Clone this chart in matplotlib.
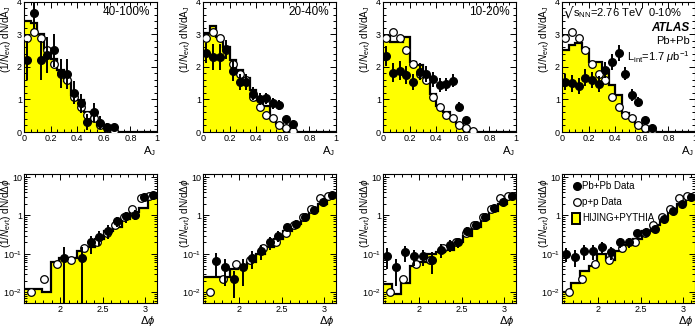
import numpy as np
import matplotlib
matplotlib.use('Agg')
import matplotlib.pyplot as plt
from matplotlib.ticker import MultipleLocator, FixedLocator, FixedFormatter, NullFormatter

plt.rcParams['font.family'] = ['Liberation Sans', 'DejaVu Sans']
plt.rcParams['mathtext.fontset'] = 'custom'
plt.rcParams['mathtext.rm'] = 'Liberation Sans'
plt.rcParams['mathtext.it'] = 'Liberation Sans:italic'

nan = np.nan
centralities = ['40-100%', '20-40%', '10-20%', '0-10%']

# ---- A_J distributions (bins of 0.05) ----
aj_edges = np.arange(0, 1.0001, 0.05)
aj_centres = aj_edges[:14] + 0.025

aj_pbpb = [
    [2.2, 3.65, 2.2, 2.35, 2.5, 1.8, 1.78, 1.2, 0.88, 0.3, 0.6, 0.28, 0.15, 0.15],
    [2.43, 2.31, 2.31, 2.53, 1.87, 1.54, 1.54, 1.18, 1.01, 1.03, 0.88, 0.83, 0.39, 0.24],
    [2.33, 1.82, 1.88, 1.74, 1.54, 1.85, 1.78, 1.61, 1.44, 1.47, 1.57, 0.78, 0.37, nan],
    [1.54, 1.49, 1.41, 1.67, 1.59, 1.47, 1.9, 2.15, 2.43, 1.78, 1.13, 0.93, 0.37, 0.13],
]
aj_pbpb_err = [
    [0.6, 0.5, 0.6, 0.55, 0.5, 0.45, 0.45, 0.35, 0.3, 0.25, 0.3, 0.2, 0.12, 0.1],
    [0.3, 0.4, 0.4, 0.3, 0.3, 0.25, 0.25, 0.2, 0.18, 0.18, 0.17, 0.15, 0.1, 0.08],
    [0.3, 0.3, 0.3, 0.28, 0.25, 0.25, 0.25, 0.22, 0.2, 0.2, 0.2, 0.15, 0.1, nan],
    [0.25, 0.25, 0.25, 0.25, 0.25, 0.25, 0.25, 0.25, 0.25, 0.2, 0.18, 0.15, 0.1, 0.06],
]
aj_pp = [2.87, 3.05, 2.87, 2.5, 2.08, 1.78, 1.6, 1.08, 0.78, 0.52, 0.42, 0.21, 0.11, 0.03]
aj_hijing = [
    [3.4, 3.33, 3.0, 2.53, 2.25, 1.9, 1.56, 1.13, 0.98, 0.62, 0.57, 0.21, 0.11, 0.04, 0, 0, 0, 0, 0, 0],
    [3.02, 3.24, 2.9, 2.6, 2.2, 1.9, 1.67, 1.29, 0.98, 0.8, 0.42, 0.24, 0.11, 0.04, 0, 0, 0, 0, 0, 0],
    [2.94, 2.77, 2.77, 2.9, 2.15, 2.05, 1.75, 1.18, 0.8, 0.62, 0.42, 0.24, 0.08, 0.02, 0, 0, 0, 0, 0, 0],
    [2.5, 2.68, 2.73, 2.53, 2.15, 2.15, 1.9, 1.45, 1.13, 0.57, 0.47, 0.24, 0.11, 0.04, 0, 0, 0, 0, 0, 0],
]

# ---- delta phi distributions (bins of pi/30) ----
dphi_edges = np.pi / 2 + np.arange(16) * np.pi / 30
dphi_centres = 0.5 * (dphi_edges[1:] + dphi_edges[:-1])

dphi_pbpb = [
    [nan, nan, nan, nan, 0.08, nan, 0.08, 0.2, 0.28, 0.4, 0.7, 0.95, 1.05, 3.0, 3.5],
    [nan, 0.065, 0.045, 0.022, 0.045, 0.08, 0.12, 0.2, 0.3, 0.5, 0.6, 0.9, 1.4, 2.2, 3.5],
    [0.09, 0.045, 0.11, 0.09, 0.09, 0.07, 0.13, 0.17, 0.2, 0.4, 0.55, 0.9, 1.6, 2.3, 3.3],
    [0.1, 0.085, 0.12, 0.12, 0.15, 0.11, 0.2, 0.2, 0.35, 0.38, 0.45, 0.8, 1.3, 2.0, 3.0],
]
dphi_pbpb_lo = [
    [nan, nan, nan, nan, 0.076, nan, 0.076, 0.1, 0.12, 0.15, 0.2, 0.3, 0.3, 0.6, 0.6],
    [nan, 0.04, 0.03, 0.015, 0.03, 0.04, 0.05, 0.07, 0.1, 0.1, 0.15, 0.15, 0.2, 0.3, 0.4],
    [0.05, 0.03, 0.05, 0.04, 0.04, 0.04, 0.05, 0.06, 0.06, 0.1, 0.1, 0.15, 0.2, 0.3, 0.3],
    [0.04, 0.04, 0.05, 0.05, 0.05, 0.04, 0.06, 0.06, 0.08, 0.08, 0.08, 0.12, 0.15, 0.2, 0.3],
]
dphi_pp = [0.01, 0.022, 0.055, 0.07, 0.14, 0.2, 0.35, 0.55, 0.9, 1.5, 2.8, 3.3]
dphi_pp_x = [1.649, 1.806, 1.963, 2.121, 2.278, 2.435, 2.55, 2.65, 2.75, 2.85, 2.95, 3.05]
dphi_hijing = [
    [0.012, 0.012, 0.01, 0.06, 0.08, 0.08, 0.12, 0.15, 0.25, 0.4, 0.5, 0.8, 1.2, 1.6, 2.8],
    [0.025, 0.025, 0.025, 0.04, 0.05, 0.06, 0.1, 0.15, 0.25, 0.4, 0.6, 0.9, 1.3, 2.0, 3.0],
    [0.017, 0.009, 0.018, 0.05, 0.06, 0.1, 0.11, 0.13, 0.2, 0.3, 0.5, 0.8, 1.3, 2.0, 3.0],
    [0.01, 0.018, 0.035, 0.05, 0.1, 0.07, 0.12, 0.17, 0.25, 0.4, 0.55, 0.8, 1.3, 2.0, 3.0],
]

W, H = 695, 327
fig = plt.figure(figsize=(W / 100, H / 100), dpi=100)
lefts = [24, 203, 383, 562]
aw = 133
fs_tick = 6.5


def style_axes(ax):
    ax.tick_params(which='both', direction='in', top=True, right=True, labelsize=fs_tick,
                   width=0.7, pad=1.5)
    ax.tick_params(which='major', length=4)
    ax.tick_params(which='minor', length=2)
    for s in ax.spines.values():
        s.set_linewidth(0.8)


def step_hist(ax, edges, vals, ybase):
    vals = np.asarray(vals, dtype=float)
    ax.stairs(vals, edges, baseline=ybase, fill=True, color='#ffff00', lw=0)
    ax.stairs(vals, edges, baseline=None, color='black', lw=1.6)


def axis_labels(ax, ytxt, xtxt, xlab_y):
    ax.set_ylabel(ytxt, fontsize=7.2)
    ax.yaxis.set_label_coords(-0.085, 0.97)
    ax.yaxis.label.set_horizontalalignment('right')
    ax.set_xlabel(xtxt, fontsize=8)
    ax.xaxis.set_label_coords(0.99, xlab_y)
    ax.xaxis.label.set_horizontalalignment('right')


for i in range(4):
    # top row: A_J
    ax = fig.add_axes([lefts[i] / W, (H - 132) / H, aw / W, 130.5 / H])
    step_hist(ax, aj_edges, aj_hijing[i], 0)
    ax.errorbar(aj_centres, aj_pbpb[i], yerr=aj_pbpb_err[i], fmt='o', color='black',
                ms=5.5, elinewidth=1.4, capsize=0, zorder=5)
    ax.plot(aj_centres, aj_pp, 'o', mfc='white', mec='black', mew=0.9, ms=5.5, zorder=4)
    ax.set_xlim(0, 1)
    ax.set_ylim(0, 4)
    ax.xaxis.set_major_locator(FixedLocator([0, 0.2, 0.4, 0.6, 0.8, 1]))
    ax.xaxis.set_major_formatter(FixedFormatter(['0', '0.2', '0.4', '0.6', '0.8', '1']))
    ax.xaxis.set_minor_locator(MultipleLocator(0.05))
    ax.yaxis.set_major_locator(MultipleLocator(1))
    ax.yaxis.set_minor_locator(MultipleLocator(0.2))
    style_axes(ax)
    axis_labels(ax, r'$(1/N_{\rm evt})$ dN/dA$_{\rm J}$', r'A$_{\rm J}$', -0.09)
    if i < 3:
        ax.text(0.95, 0.92, centralities[i], transform=ax.transAxes, ha='right', va='center',
                fontsize=8.5)
    else:
        ax.text(0.01, 0.915, '\u221a', transform=ax.transAxes, ha='left', va='center',
                fontsize=11, family='DejaVu Sans')
        ax.text(0.085, 0.91, r's$_{\rm NN}$=2.76 TeV  ' + centralities[i],
                transform=ax.transAxes, ha='left', va='center', fontsize=8)
        ax.text(0.96, 0.8, 'ATLAS', transform=ax.transAxes, ha='right', va='center',
                fontsize=8.5, fontweight='bold', fontstyle='italic')
        ax.text(0.96, 0.695, 'Pb+Pb', transform=ax.transAxes, ha='right', va='center',
                fontsize=8)
        ax.text(0.96, 0.575, r'L$_{\rm int}$=1.7 $\mu$b$^{-1}$', transform=ax.transAxes,
                ha='right', va='center', fontsize=8)

    # bottom row: delta phi
    ax = fig.add_axes([lefts[i] / W, (H - 303) / H, aw / W, 129 / H])
    ylo, yhi = 5.3e-3, 12
    step_hist(ax, dphi_edges, dphi_hijing[i], ylo)
    y = np.array(dphi_pbpb[i])
    lo = np.array(dphi_pbpb_lo[i])
    ax.errorbar(dphi_centres, y, yerr=[lo, lo], fmt='o', color='black', ms=5.5,
                elinewidth=1.4, capsize=0, zorder=5)
    ax.plot(dphi_pp_x, dphi_pp, 'o', mfc='white', mec='black', mew=0.9, ms=5.5, zorder=4)
    ax.set_yscale('log')
    ax.set_xlim(np.pi / 2, np.pi)
    ax.set_ylim(ylo, yhi)
    ax.xaxis.set_major_locator(FixedLocator([2, 2.5, 3]))
    ax.xaxis.set_major_formatter(FixedFormatter(['2', '2.5', '3']))
    ax.xaxis.set_minor_locator(MultipleLocator(0.1))
    ax.yaxis.set_major_locator(FixedLocator([1e-2, 1e-1, 1, 10]))
    ax.yaxis.set_major_formatter(FixedFormatter([r'$10^{-2}$', r'$10^{-1}$', '1', '10']))
    ax.yaxis.set_minor_locator(FixedLocator(
        [k * 10.0 ** e for e in range(-3, 2) for k in range(2, 10)]))
    ax.yaxis.set_minor_formatter(NullFormatter())
    style_axes(ax)
    axis_labels(ax, r'$(1/N_{\rm evt})$ dN/d$\Delta\phi$', r'$\Delta\phi$', -0.085)
    if i == 3:
        ax.plot([0.11], [0.907], 'o', color='black', ms=5.5, transform=ax.transAxes)
        ax.text(0.15, 0.907, 'Pb+Pb Data', transform=ax.transAxes, va='center', fontsize=7)
        ax.plot([0.11], [0.783], 'o', mfc='white', mec='black', mew=0.9, ms=5.5,
                transform=ax.transAxes)
        ax.text(0.15, 0.783, 'p+p Data', transform=ax.transAxes, va='center', fontsize=7)
        ax.add_patch(plt.Rectangle((0.075, 0.615), 0.06, 0.085, transform=ax.transAxes,
                                   facecolor='#ffff00', edgecolor='black', lw=1.4))
        ax.text(0.15, 0.659, 'HIJING+PYTHIA', transform=ax.transAxes, va='center',
                fontsize=7)

fig.savefig('out.png', dpi=100)
